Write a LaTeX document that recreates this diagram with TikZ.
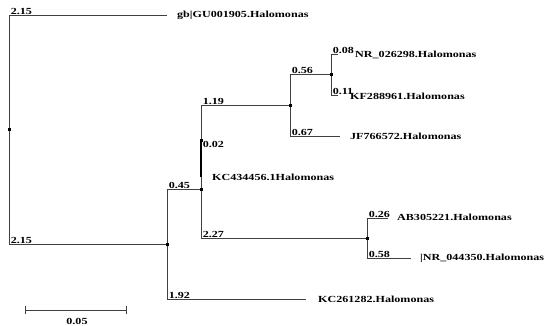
\documentclass[tikz,border=0pt]{standalone}
\usepackage{fontspec}
\setmainfont{Liberation Serif}[FakeStretch=1.3]
\usetikzlibrary{positioning}

\begin{document}
\begin{tikzpicture}[x=1pt,y=-1pt,
  br/.style={draw=black!75,line width=0.9pt},
  len/.style={anchor=south west,inner sep=0.6pt,font=\bfseries\fontsize{9.3}{10}\selectfont},
  leaf/.style={anchor=west,inner sep=0pt,font=\bfseries\fontsize{9.3}{10}\selectfont},
  dot/.style={rectangle,fill=black,minimum size=3pt,inner sep=0pt}]
\useasboundingbox (0,0) rectangle (547,325);
% inner nodes
\coordinate (root) at (9,129.5);
\coordinate (n1) at (167,244);
\coordinate (n2) at (201,189);
\coordinate (n3) at (290,105.5);
\coordinate (n4) at (331,74.5);
\coordinate (n5) at (367,238);
\coordinate (kc) at (201,140);
% branch ends
\coordinate (gbe) at (167,15);
\coordinate (nr1e) at (338,54);
\coordinate (kfe) at (338,95);
\coordinate (jfe) at (340,136);
\coordinate (kc4e) at (201,177);
\coordinate (abe) at (388,218);
\coordinate (nr2e) at (411,258);
\coordinate (kc2e) at (306,299);
% leaves
\node[leaf] (gb) at (177,15) {gb|GU001905.Halomonas};
\node[leaf] (nr1) at (355,55) {NR\_026298.Halomonas};
\node[leaf] (kf) at (350,96) {KF288961.Halomonas};
\node[leaf] (jf) at (350,136) {JF766572.Halomonas};
\node[leaf] (kc4) at (212,177) {KC434456.1Halomonas};
\node[leaf] (ab) at (397,217) {AB305221.Halomonas};
\node[leaf] (nr2) at (420,258) {|NR\_044350.Halomonas};
\node[leaf] (kc2) at (318,299) {KC261282.Halomonas};
% branches
\draw[br] (root) |- (gbe);
\draw[br] (root) |- (n1);
\draw[br] (n1) |- (n2);
\draw[br] (n1) |- (kc2e);
\draw[br] (n2) |- (n3);
\draw[br] (n2) |- (n5);
\draw[br] (n3) |- (n4);
\draw[br] (n3) |- (jfe);
\draw[br] (n4) |- (nr1e);
\draw[br] (n4) |- (kfe);
\draw[br] (n5) |- (abe);
\draw[br] (n5) |- (nr2e);
\draw[black,line width=2pt] (kc) -- (kc4e);
% branch lengths
\node[len] (l1) at ([xshift=1pt]root |- gbe) {2.15};
\node[len] (l2) at ([xshift=1pt]root |- n1) {2.15};
\node[len] (l3) at ([xshift=1pt]n1 |- n2) {0.45};
\node[len] (l4) at ([xshift=1pt]n1 |- kc2e) {1.92};
\node[len] (l5) at ([xshift=1pt]n2 |- n3) {1.19};
\node[len] (l6) at ([xshift=1pt]n2 |- n5) {2.27};
\node[len,anchor=west] (l7) at ([xshift=1pt,yshift=-4pt]kc) {0.02};
\node[len] (l8) at ([xshift=1pt]n3 |- n4) {0.56};
\node[len] (l9) at ([xshift=1pt]n3 |- jfe) {0.67};
\node[len] (l10) at ([xshift=1pt]n4 |- nr1e) {0.08};
\node[len] (l11) at ([xshift=1pt]n4 |- kfe) {0.11};
\node[len] (l12) at ([xshift=1pt]n5 |- abe) {0.26};
\node[len] (l13) at ([xshift=1pt]n5 |- nr2e) {0.58};
% node dots
\foreach \n in {root,n1,n2,n3,n4,n5,kc}
  \node[dot] at (\n) {};
% scale bar
\coordinate (sbl) at (25,310);
\coordinate (sbr) at (126,310);
\draw[br] (sbl) -- (sbr);
\draw[br] ([yshift=-4pt]sbl) -- ([yshift=4pt]sbl);
\draw[br] ([yshift=-4pt]sbr) -- ([yshift=4pt]sbr);
\node[len,anchor=center] (sblab) at (77,321) {0.05};
\end{tikzpicture}
\end{document}
